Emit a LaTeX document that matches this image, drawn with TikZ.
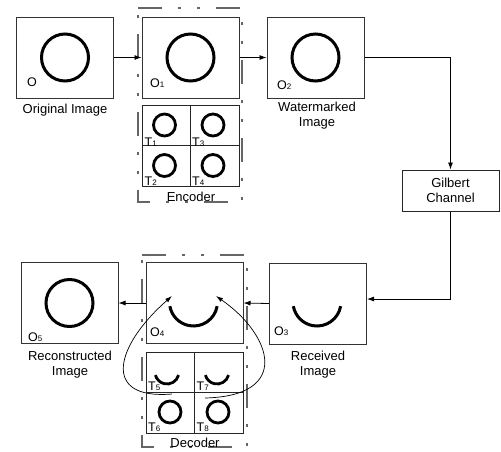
\documentclass[tikz,border=0pt]{standalone}
\usepackage{fontspec}
\setmainfont{Liberation Sans}
\usetikzlibrary{arrows.meta,calc}
\newcommand{\sbs}[1]{\raisebox{-0.6pt}{\fontsize{8}{8}\selectfont #1}}
\begin{document}
\begin{tikzpicture}[x=1pt,y=-1pt,
  font=\fontsize{13}{15}\selectfont,
  imgbox/.style={draw=black!80, line width=1pt, minimum width=97pt, minimum height=81pt, inner sep=0pt},
  tilebox/.style={draw=black!85, line width=0.9pt, minimum width=48.5pt, minimum height=40.5pt, inner sep=0pt},
  gilbox/.style={draw=black!85, line width=1pt, minimum width=97pt, minimum height=41pt, inner sep=0pt, align=center},
  bigc/.style={circle, draw=black, line width=3pt, minimum size=47pt, inner sep=0pt},
  smallc/.style={circle, draw=black, line width=2.8pt, minimum size=22pt, inner sep=0pt},
  arcl/.style={draw=black, line width=3pt},
  sarcl/.style={draw=black, line width=2.8pt},
  lbl/.style={inner sep=0pt, font=\fontsize{12.5}{12.5}\selectfont},
  captext/.style={inner sep=0pt, align=center},
  dashbox/.style={draw=black!60, line width=1.4pt, dash pattern=on 24pt off 16pt on 3pt off 16pt on 3pt off 16pt},
  arr/.style={-{Latex[length=7pt,width=5pt]}, line width=0.8pt},
  carr/.style={-{Latex[length=7pt,width=4.5pt]}, line width=0.7pt}
]
\useasboundingbox (0,0) rectangle (501,451);

% dashed frames
\draw[dashbox] (138,8) -- (242,8) -- (242,202) -- (138,202) -- cycle;
\draw[dashbox] (142,255) -- (247,255) -- (247,447) -- (142,447) -- cycle;

% image boxes
\node[imgbox] (o)  at (65,57.5) {};
\node[imgbox] (o1) at (190.5,57.5) {};
\node[imgbox] (o2) at (315.5,57.5) {};
\node[gilbox] (gil) at (450.5,190.5) {Gilbert\\Channel};
\node[imgbox] (o3) at (318,303.5) {};
\node[imgbox] (o4) at (194.5,303) {};
\node[imgbox] (o5) at (69.5,303) {};

% big circles / arcs
\node[bigc] (co)  at (o.center) {};
\node[bigc] (co1) at (o1.center) {};
\node[bigc] (co2) at (o2.center) {};
\node[bigc] (co5) at (o5.center) {};
\draw[arcl] ($(o3.center)+(-1,-1.5)$) ++(10:24) arc[start angle=10, end angle=170, radius=24];
\draw[arcl] ($(o4.center)+(-1,-1)$) ++(10:24) arc[start angle=10, end angle=170, radius=24];

% box labels
\node[lbl, anchor=base west] (lo)  at (27,86) {O};
\node[lbl, anchor=base west] (lo1) at (150,87) {O\sbs{1}};
\node[lbl, anchor=base west] (lo2) at (277,89) {O\sbs{2}};
\node[lbl, anchor=base west] (lo3) at (274,335) {O\sbs{3}};
\node[lbl, anchor=base west] (lo4) at (150,336) {O\sbs{4}};
\node[lbl, anchor=base west] (lo5) at (28,341) {O\sbs{5}};

% encoder tiles
\node[tilebox] (t1) at (166.25,125.5) {};
\node[tilebox] (t3) at (214.75,125.5) {};
\node[tilebox] (t2) at (166.25,166) {};
\node[tilebox] (t4) at (214.75,166) {};
\node[smallc] (ct1) at (164.5,125) {};
\node[smallc] (ct3) at (213,125) {};
\node[smallc] (ct2) at (164.5,165.5) {};
\node[smallc] (ct4) at (213,165.5) {};
\node[lbl, anchor=base west] (lt1) at (144.5,146) {T\sbs{1}};
\node[lbl, anchor=base west] (lt3) at (192,146) {T\sbs{3}};
\node[lbl, anchor=base west] (lt2) at (144.5,185) {T\sbs{2}};
\node[lbl, anchor=base west] (lt4) at (192,185) {T\sbs{4}};

% decoder tiles
\node[tilebox] (t5) at (170.25,372.25) {};
\node[tilebox] (t7) at (218.75,372.25) {};
\node[tilebox] (t6) at (170.25,412.75) {};
\node[tilebox] (t8) at (218.75,412.75) {};
\draw[sarcl] (167,372) ++(15:12) arc[start angle=15, end angle=165, radius=12];
\draw[sarcl] (217,372) ++(15:12) arc[start angle=15, end angle=165, radius=12];
\node[smallc] (ct6) at (170,412) {};
\node[smallc] (ct8) at (218,412) {};
\node[lbl, anchor=base west] (lt5) at (148,390) {T\sbs{5}};
\node[lbl, anchor=base west] (lt7) at (196.5,390) {T\sbs{7}};
\node[lbl, anchor=base west] (lt6) at (148,431) {T\sbs{6}};
\node[lbl, anchor=base west] (lt8) at (196.5,431) {T\sbs{8}};

% captions
\node[captext] (c0) at (65,110) {Original Image};
\node[captext] (c2) at (317,115.5) {Watermarked\\Image};
\node[captext] (c3) at (318,364.5) {Received\\Image};
\node[captext] (c5) at (70,364.5) {Reconstructed\\Image};
\node[captext] (enc) at (191,197) {Encoder};
\node[captext] (dec) at (195,443) {Decoder};

% connectors
\coordinate (g3) at ($(o3.east)+(0,-4.5)$);
\draw[arr] (o.east) -- (o1.west);
\draw[arr] (o1.east) -- (o2.west);
\draw[arr] (o2.east) -| (gil.north);
\draw[arr] (gil.south) |- (g3);
\draw[arr] (o3.west) -- (o4.east);
\draw[arr] (o4.west) -- (o5.east);

% curved arrows
\coordinate (sL) at (172,394);
\coordinate (tL) at (172,296);
\coordinate (sR) at (205,398);
\coordinate (tR) at (216,296);
\draw[carr] (sL) .. controls (100,400) and (116,345) .. (tL);
\draw[carr] (sR) .. controls (292,396) and (272,335) .. (tR);
\end{tikzpicture}
\end{document}
